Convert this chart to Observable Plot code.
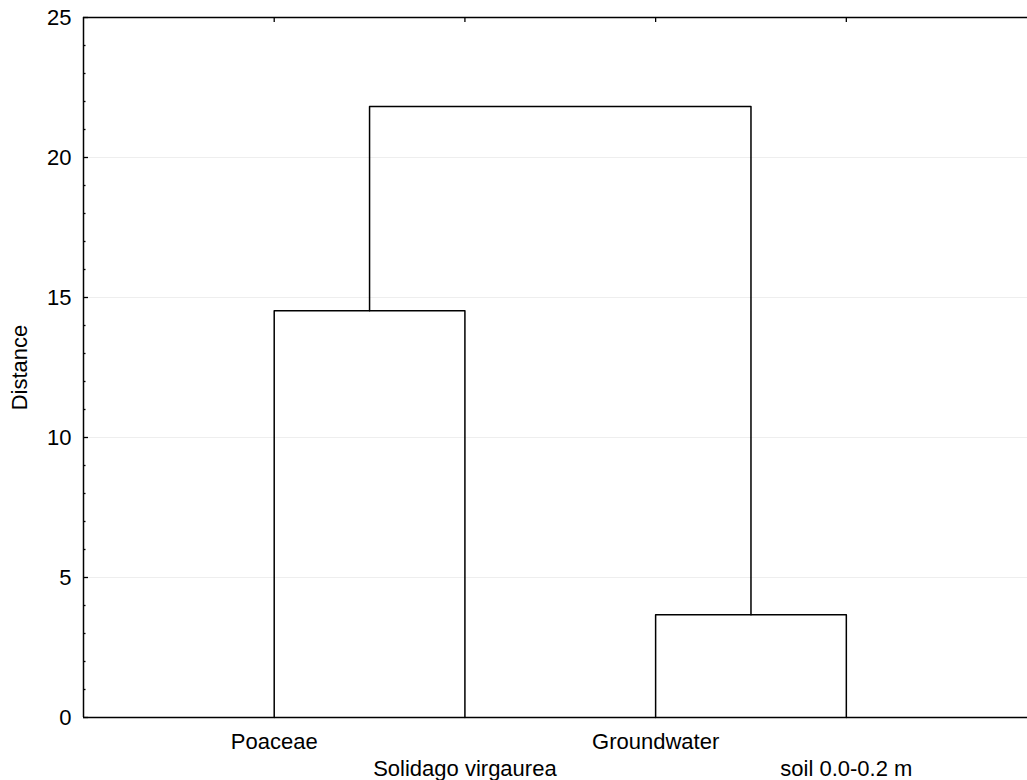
<!DOCTYPE html>
<html>
<head>
<meta charset="utf-8">
<script src="https://cdn.jsdelivr.net/npm/d3@7"></script>
<script src="https://cdn.jsdelivr.net/npm/@observablehq/plot@0.6"></script>
<style>
  html, body { margin: 0; padding: 0; background: #fff; }
  svg { display: block; }
</style>
</head>
<body>
<div id="chart"></div>
<script>
// Leaves in dendrogram order
const leaves = ["Poaceae", "Solidago virgaurea", "Groundwater", "soil 0.0-0.2 m"];
// Linkage: node ids 0..3 are leaves, merges create ids 4, 5, 6
const mergePairs = [[0, 1], [2, 3], [4, 5]];
const mergeHeights = [14.53, 3.67, 21.82];
// Axis ticks
const yMajorTicks = [0, 5, 10, 15, 20, 25];
const yMinorTicks = d3.range(0, 26).filter(v => v % 5 !== 0);
const yLabel = "Distance";

// Build node positions (leaf order 1..n) and link paths
const nodeX = leaves.map((_, i) => i + 1);
const nodeH = leaves.map(() => 0);
const links = [];
mergePairs.forEach(([a, b], k) => {
  const H = mergeHeights[k];
  links.push({id: k, x: nodeX[a], h: nodeH[a]});
  links.push({id: k, x: nodeX[a], h: H});
  links.push({id: k, x: nodeX[b], h: H});
  links.push({id: k, x: nodeX[b], h: nodeH[b]});
  nodeX.push((nodeX[a] + nodeX[b]) / 2);
  nodeH.push(H);
});
const leafData = leaves.map((name, i) => ({name, x: i + 1, row: i % 2}));

const font = "Liberation Sans, Arial, Helvetica, sans-serif";

const chart = Plot.plot({
  width: 1027,
  height: 780,
  marginTop: 17,
  marginLeft: 83,
  marginRight: 0,
  marginBottom: 63,
  style: {fontFamily: font, fontSize: "22px", color: "#000", background: "#fff"},
  x: {domain: [0, 4.95]},
  y: {domain: [0, 25]},
  marks: [
    Plot.gridY(yMajorTicks, {stroke: "#eeeeee", strokeOpacity: 1, strokeWidth: 1}),
    // frame (top, bottom, left)
    Plot.ruleY([0, 25], {stroke: "#000", strokeWidth: 1.5}),
    Plot.ruleX([0], {stroke: "#000", strokeWidth: 1.5}),
    // y axis labels
    Plot.axisY({ticks: yMajorTicks, tickSize: 0, tickPadding: 12, label: null, fontSize: 22}),
    // inward major and minor ticks
    Plot.axisY({ticks: yMajorTicks, tickSize: -5, tickFormat: () => "", label: null, strokeWidth: 1.3}),
    Plot.axisY({ticks: yMinorTicks, tickSize: -2.5, tickFormat: () => "", label: null, strokeWidth: 1.3}),
    // top ticks at leaf positions
    Plot.axisX({anchor: "top", ticks: leafData.map(d => d.x), tickSize: -4, tickFormat: () => "", label: null, strokeWidth: 1.3}),
    // dendrogram
    Plot.line(links, {x: "x", y: "h", z: "id", stroke: "#000", strokeWidth: 1.5, curve: "linear"}),
    // leaf labels (alternating rows)
    Plot.text(leafData.filter(d => d.row === 0), {x: "x", text: "name", frameAnchor: "bottom", lineAnchor: "middle", dy: 24, fill: "#000", fontSize: 22}),
    Plot.text(leafData.filter(d => d.row === 1), {x: "x", text: "name", frameAnchor: "bottom", lineAnchor: "middle", dy: 51, fill: "#000", fontSize: 22}),
    // y axis title
    Plot.text([yLabel], {text: d => d, frameAnchor: "left", textAnchor: "middle", lineAnchor: "middle", rotate: -90, dx: -64, fill: "#000", fontSize: 22})
  ]
});
document.getElementById("chart").appendChild(chart);
</script>
</body>
</html>
